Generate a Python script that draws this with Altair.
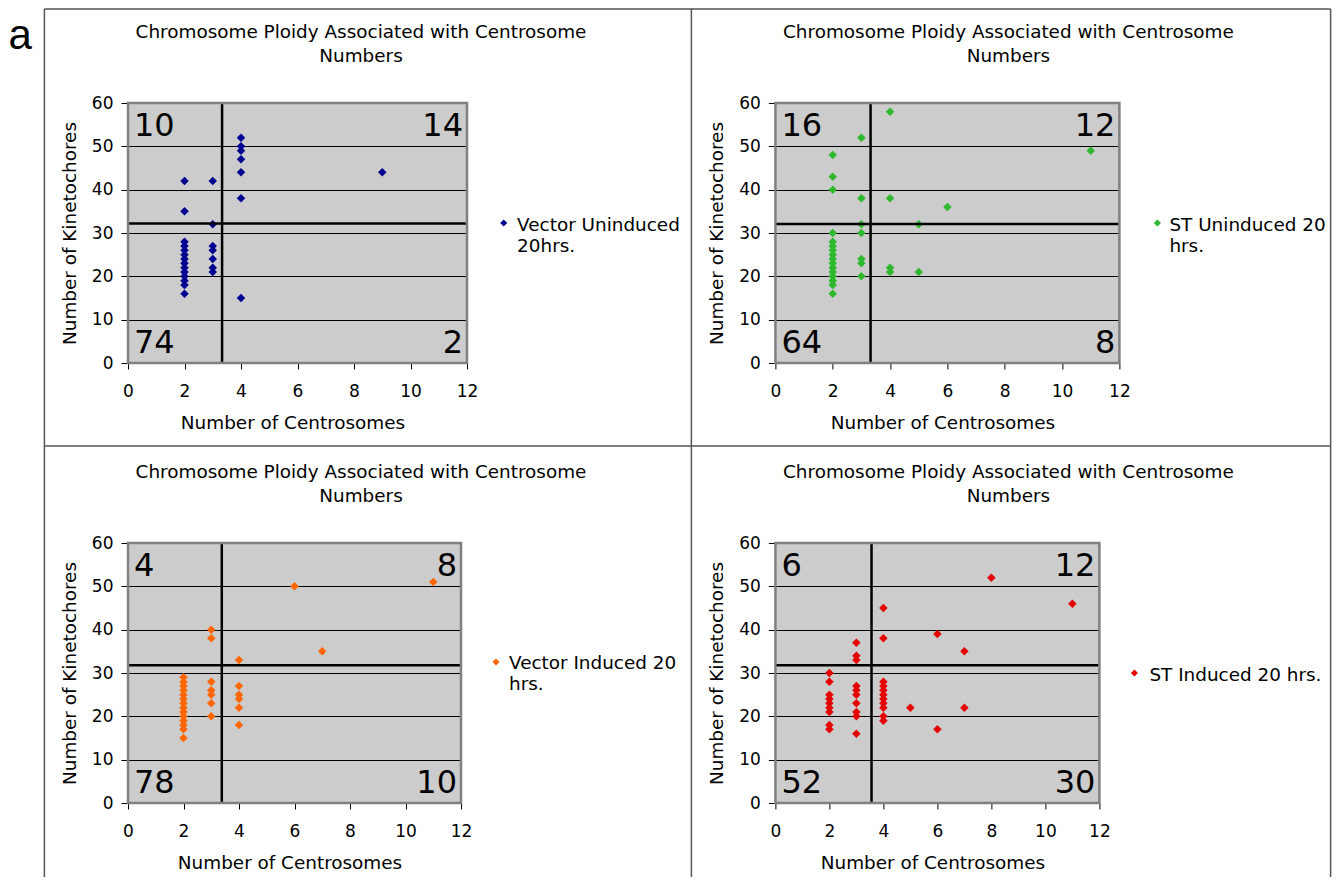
import altair as alt
import pandas as pd

FONT = "DejaVu Sans"
TXT = 18.4

# ---------------- text ----------------
TITLE_TEXT = "Chromosome Ploidy Associated with Centrosome\nNumbers"
X_TITLE = "Number of Centrosomes"
Y_TITLE = "Number of Kinetochores"
PANEL_LABEL = "a"

SERIES = ["Vector Uninduced\n20hrs.", "ST Uninduced 20\nhrs.", "Vector Induced 20\nhrs.", "ST Induced 20 hrs."]
COLORS = ["#000090", "#2DB82D", "#FF6600", "#E50000"]

X_TICKS = [0, 2, 4, 6, 8, 10, 12]
Y_TICKS = [0, 10, 20, 30, 40, 50, 60]

# ---------------- data ----------------
VU_X = [2, 2, 2, 2, 2, 2, 2, 2, 2, 2, 2, 2, 2, 2,
        3, 3, 3, 3, 3, 3, 3,
        4, 4, 4, 4, 4, 4, 4,
        9]
VU_Y = [42, 35, 28, 27, 26, 25, 24, 23, 22, 21, 20, 19, 18, 16,
        42, 32, 27, 26, 24, 22, 21,
        52, 50, 49, 47, 44, 38, 15,
        44]

SU_X = [2, 2, 2, 2, 2, 2, 2, 2, 2, 2, 2, 2, 2, 2, 2, 2,
        3, 3, 3, 3, 3, 3, 3,
        4, 4, 4, 4,
        5, 5,
        6,
        11]
SU_Y = [48, 43, 40, 30, 28, 27, 26, 25, 24, 23, 22, 21, 20, 19, 18, 16,
        52, 38, 32, 30, 24, 23, 20,
        58, 38, 22, 21,
        32, 21,
        36,
        49]

VI_X = [2, 2, 2, 2, 2, 2, 2, 2, 2, 2, 2, 2, 2, 2,
        3, 3, 3, 3, 3, 3, 3,
        4, 4, 4, 4, 4, 4,
        6, 7, 11]
VI_Y = [29, 28, 27, 26, 25, 24, 23, 22, 21, 20, 19, 18, 17, 15,
        40, 38, 28, 26, 25, 23, 20,
        33, 27, 25, 24, 22, 18,
        50, 35, 51]

SI_X = [2, 2, 2, 2, 2, 2, 2, 2, 2,
        3, 3, 3, 3, 3, 3, 3, 3, 3, 3,
        4, 4, 4, 4, 4, 4, 4, 4, 4, 4, 4,
        5, 6, 6, 7, 7, 8, 11]
SI_Y = [30, 28, 25, 24, 23, 22, 21, 18, 17,
        37, 34, 33, 27, 26, 25, 23, 21, 20, 16,
        45, 38, 28, 27, 26, 25, 24, 23, 22, 20, 19,
        22, 39, 17, 35, 22, 52, 46]

# quadrant counts: top-left, top-right, bottom-left, bottom-right
VU_QUAD = [10, 14, 74, 2]
SU_QUAD = [16, 12, 64, 8]
VI_QUAD = [4, 8, 78, 10]
SI_QUAD = [6, 12, 52, 30]

# cut-off lines
CUT_CENTROSOMES = [3.33, 3.32, 3.38, 3.56]
CUT_KINETOCHORES = [32.2, 32.1, 31.8, 31.8]


def tiny(**cols):
    return pd.DataFrame({k: [v] for k, v in cols.items()})


def panel(i, xs, ys, quad, width, legend_dx, legend_dy, text_dx, text_dy, extra=None):
    W, H = width, 260
    df = pd.DataFrame({"Number of Centrosomes": xs, "Number of Kinetochores": ys,
                       "Series": SERIES[i].replace("\n", " ")})
    xsc = alt.Scale(domain=[0, 12], nice=False, zero=True)
    ysc = alt.Scale(domain=[0, 60], nice=False, zero=True)
    xax = alt.Axis(values=X_TICKS, title=X_TITLE, grid=False, tickSize=6, labelPadding=14,
                   titlePadding=14, domain=False, labelFlush=False, titleX=W / 2 - 5)
    yax = alt.Axis(values=Y_TICKS, title=Y_TITLE, grid=True, tickSize=7, labelPadding=8,
                   titlePadding=12, domain=False, labelFlush=False)
    xenc = alt.X("Number of Centrosomes:Q", scale=xsc, axis=xax)
    yenc = alt.Y("Number of Kinetochores:Q", scale=ysc, axis=yax)

    pts = alt.Chart(df).mark_point(shape="diamond", filled=True, size=72, opacity=1,
                                   color=COLORS[i]).encode(x=xenc, y=yenc)
    vcut = alt.Chart(pd.DataFrame({"Number of Centrosomes": [CUT_CENTROSOMES[i]]})).mark_rule(
        color="black", strokeWidth=2.5).encode(x=xenc)
    hcut = alt.Chart(pd.DataFrame({"Number of Kinetochores": [CUT_KINETOCHORES[i]]})).mark_rule(
        color="black", strokeWidth=2.5).encode(y=yenc)
    frame = alt.Chart(tiny(k=0)).mark_rect(fillOpacity=0, stroke="#808080", strokeWidth=2.5).encode(
        x=alt.value(0), x2=alt.value(W), y=alt.value(0), y2=alt.value(H))

    def qtext(n, x, y, align):
        return alt.Chart(tiny(count=str(n))).mark_text(
            align=align, baseline="alphabetic", fontSize=32, font=FONT, color="black"
        ).encode(x=alt.value(x), y=alt.value(y), text="count:N")

    quads = [qtext(quad[0], 6, 33, "left"), qtext(quad[1], W - 4, 33, "right"),
             qtext(quad[2], 6, H - 10, "left"), qtext(quad[3], W - 4, H - 10, "right")]

    title = alt.Chart(tiny(t=TITLE_TEXT)).mark_text(
        align="center", baseline="alphabetic", fontSize=TXT, font=FONT, color="black",
        lineBreak="\n", lineHeight=24
    ).encode(x=alt.value(233), y=alt.value(-65), text="t:N")

    leg_pt = alt.Chart(tiny(s=SERIES[i])).mark_point(
        shape="diamond", filled=True, size=50, opacity=1, color=COLORS[i]
    ).encode(x=alt.value(W + legend_dx), y=alt.value(legend_dy))
    leg_tx = alt.Chart(tiny(s=SERIES[i])).mark_text(
        align="left", baseline="alphabetic", fontSize=TXT, font=FONT, color="black",
        lineBreak="\n", lineHeight=21
    ).encode(x=alt.value(W + legend_dx + text_dx), y=alt.value(legend_dy + text_dy), text="s:N")

    layers = [pts, vcut, hcut, frame] + quads + [title, leg_pt, leg_tx] + (extra or [])
    return alt.layer(*layers).properties(width=W, height=H)


def rule(x1, y1, x2, y2):
    return alt.Chart(tiny(k=0)).mark_rule(color="#555555", strokeWidth=1.5).encode(
        x=alt.value(x1), y=alt.value(y1), x2=alt.value(x2), y2=alt.value(y2))


# box lines around the four charts, relative to the first plot's corner
L, R, T, B, MX, MY = -83.6, 1202.6, -94, 774, 563.4, 343
borders = [rule(L, T, R, T), rule(L, T, L, B), rule(MX, T, MX, B), rule(R, T, R, B), rule(L, MY, R, MY)]
label_a = alt.Chart(tiny(t=PANEL_LABEL)).mark_text(
    align="left", baseline="alphabetic", fontSize=42, font="Liberation Sans", color="black"
).encode(x=alt.value(-119.6), y=alt.value(-54), text="t:N")

p1 = panel(0, VU_X, VU_Y, VU_QUAD, 339, 36.7, 120, 13.4, 8, extra=borders + [label_a])
p2 = panel(1, SU_X, SU_Y, SU_QUAD, 344, 38, 120, 12, 8)
p3 = panel(2, VI_X, VI_Y, VI_QUAD, 333, 35, 119, 13, 7)
p4 = panel(3, SI_X, SI_Y, SI_QUAD, 324, 35, 130, 15, 8)

chart = alt.concat(
    p1, p2, p3, p4, columns=2, spacing={"row": 180, "column": 308.4}, bounds="flush", align="each"
).properties(padding=0).configure_view(
    fill="#CCCCCC", strokeWidth=0
).configure_axis(
    labelFont=FONT, titleFont=FONT, labelFontSize=17, titleFontSize=TXT,
    labelColor="black", titleColor="black", tickColor="black", tickWidth=1,
    titleFontWeight="normal", gridColor="black", gridWidth=1, gridOpacity=1
)

chart.save("out.html", embed_options={"renderer": "svg", "actions": False})
